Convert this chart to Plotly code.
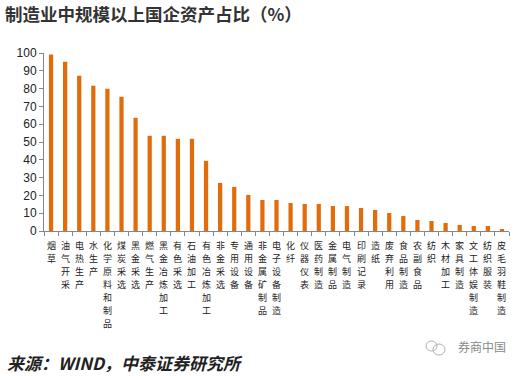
import plotly.graph_objects as go

categories = ["烟草", "油气开采", "电热生产", "水生产", "化学原料和制品", "煤炭采选", "黑金采选",
              "燃气生产", "黑金冶炼加工", "有色采选", "石油加工", "有色冶炼加工", "非金采选",
              "专用设备", "通用设备", "非金属矿制品", "电子设备制造", "化纤", "仪器仪表",
              "医药制造", "金属制品", "电气制造", "印刷记录", "造纸", "废弃利用", "食品制造",
              "农副食品", "纺织", "木材加工", "家具制造", "文工体娱制造", "纺织服装", "皮毛羽鞋制造"]
values = [99.1, 95.1, 87.2, 81.6, 79.9, 75.4, 63.6, 53.5, 53.5, 51.8, 51.8, 39.4, 27.0,
          24.8, 20.3, 17.4, 17.4, 15.7, 15.2, 15.2, 14.0, 14.0, 12.9, 11.8, 10.1, 8.4,
          6.2, 5.6, 4.5, 3.4, 2.8, 2.8, 1.1]
y_ticks = [0, 10, 20, 30, 40, 50, 60, 70, 80, 90, 100]

W, H = 523, 376
L, R, T, B = 44, 14, 53, 145
pw, ph = W - L - R, H - T - B

def px_x(x):
    return (x - L) / pw

def px_y(y):
    return (H - B - y) / ph

cjk = "Noto Sans CJK SC"

fig = go.Figure()
fig.add_trace(go.Bar(x=categories, y=values, marker=dict(color="#E36C0A", line=dict(width=0)),
                     width=0.3, hoverinfo="skip"))

fig.update_layout(
    width=W, height=H,
    margin=dict(l=L, r=R, t=T, b=B, pad=0),
    paper_bgcolor="white", plot_bgcolor="white",
    showlegend=False,
    font=dict(family="Arial, " + cjk, color="#222"),
    title=dict(text="<b>制造业中规模以上国企资产占比（%）</b>", xref="container", yref="container",
               x=5 / W, xanchor="left", y=1 - 15 / H, yanchor="middle",
               font=dict(family=cjk, size=17.5, color="#333")),
    xaxis=dict(tickmode="array", tickvals=categories, showticklabels=False,
               showline=True, linecolor="#868686", linewidth=1,
               ticks="outside", ticklen=4, tickcolor="#868686", tickson="boundaries",
               showgrid=False, fixedrange=True),
    yaxis=dict(range=[0, 100], tickvals=y_ticks, tickfont=dict(family="Arial", size=12, color="#222"),
               showline=True, linecolor="#868686", linewidth=1,
               ticks="outside", ticklen=4, tickcolor="#868686",
               showgrid=False, zeroline=False, fixedrange=True),
)

# vertical (stacked) category labels, one character per line
pitch = 13.1
for cat in categories:
    for k, ch in enumerate(cat):
        fig.add_annotation(text=ch, x=cat, xref="x", yref="paper", y=px_y(245 + k * pitch),
                           xanchor="center", yanchor="middle", showarrow=False, borderpad=0,
                           font=dict(family=cjk, size=9, color="#222"))

fig.add_annotation(text="<i><b>来源：WIND，中泰证券研究所</b></i>", xref="paper", yref="paper",
                   x=px_x(5), y=px_y(362), xanchor="left", yanchor="middle", showarrow=False,
                   font=dict(family=cjk, size=17, color="#222"))
fig.add_annotation(text="券商中国", xref="paper", yref="paper",
                   x=px_x(456), y=px_y(346), xanchor="left", yanchor="middle", showarrow=False,
                   font=dict(family=cjk, size=12, color="#8a8a8a"))
fig.add_shape(type="circle", xref="paper", yref="paper",
              x0=px_x(426), x1=px_x(437), y0=px_y(351), y1=px_y(341),
              line=dict(color="#b0b0b0", width=1))
fig.add_shape(type="circle", xref="paper", yref="paper",
              x0=px_x(433), x1=px_x(445), y0=px_y(355), y1=px_y(344),
              line=dict(color="#b0b0b0", width=1))

fig.write_html("out.html", config={"displayModeBar": False},
               post_script="document.body.style.margin='0';")
